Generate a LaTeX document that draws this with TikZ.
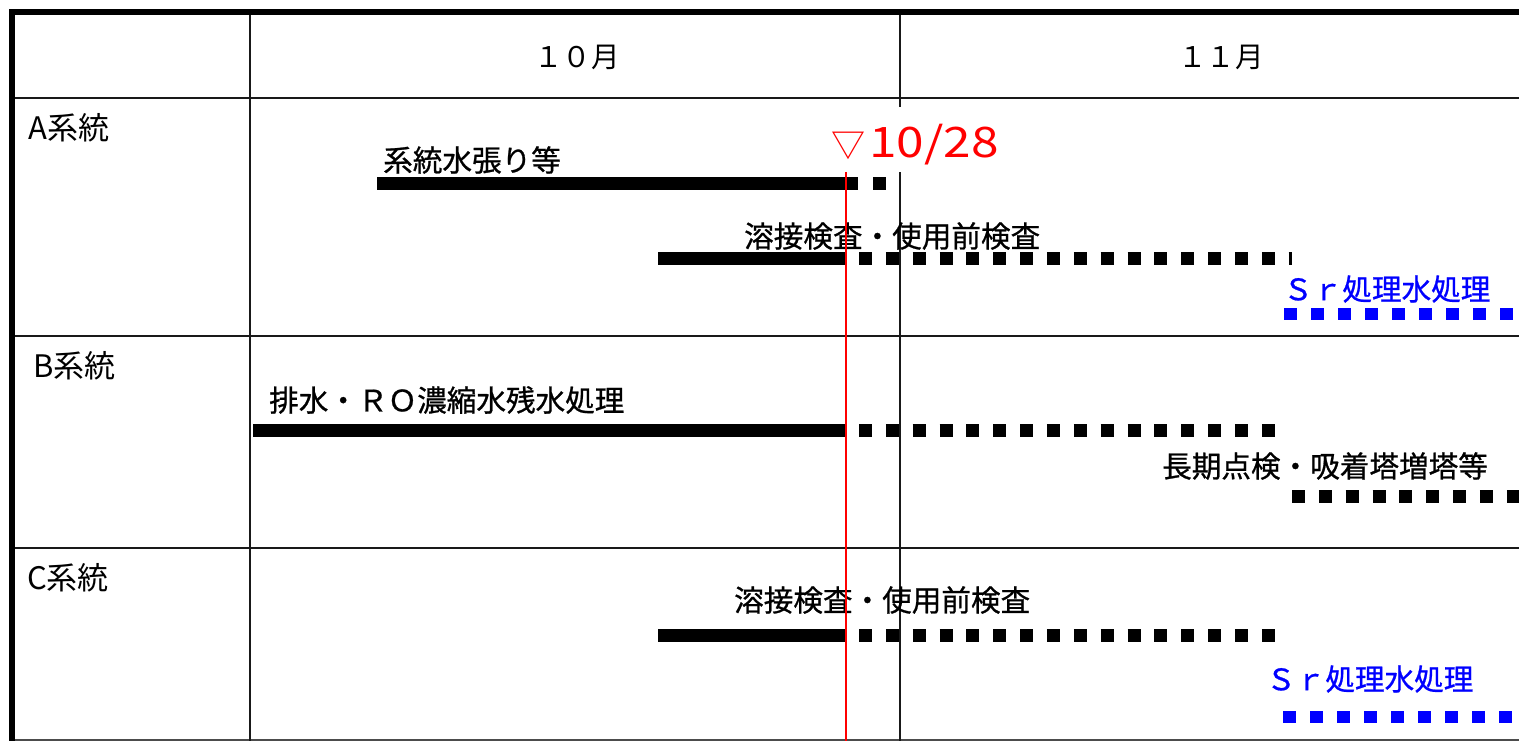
\documentclass[tikz,border=0pt]{standalone}
\usepackage{fontspec}
\newfontfamily\jp{Noto Sans CJK JP}
\newfontfamily\jpbar[FakeBold=0.8]{Noto Sans CJK JP}
\newfontfamily\jpwide[FakeStretch=1.18]{Noto Sans CJK JP}
\tikzset{
  frameline/.style={line width=5.5pt, line join=miter, line cap=rect},
  gridline/.style={line width=2.5pt, black!90},
  lbl/.style={font=\jpbar\fontsize{29.6}{30}\selectfont, anchor=west, inner sep=0pt},
  rowlbl/.style={font=\jp\fontsize{31}{31}\selectfont, anchor=west, inner sep=0pt},
  monthlbl/.style={font=\jp\fontsize{28.5}{28}\selectfont, inner sep=0pt},
  solidbar/.style={line width=13pt},
  planbar/.style={line width=13pt, dash pattern=on 13pt off 13.85pt},
  srbar/.style={line width=12pt, blue, dash pattern=on 12.5pt off 14.5pt},
  srlbl/.style={lbl, text=blue},
}
\begin{document}
\begin{tikzpicture}[x=1pt,y=-1pt]
\useasboundingbox (0,0) rectangle (1519,741);
% grid
\draw[gridline] (12,98) -- (1519,98);
\draw[gridline] (12,336) -- (1519,336);
\draw[gridline] (12,548) -- (1519,548);
\draw[line width=1.5pt, black!70] (12,740) -- (1519,740);
\draw[gridline] (250,12) -- (250,741);
\draw[gridline] (900,12) -- (900,741);
\draw[frameline] (1519,12) -- (12,12) -- (12,741);
% headers
\node[monthlbl] (oct) at (577,57) {１０月};
\node[monthlbl] (nov) at (1221,57) {１１月};
\node[rowlbl] (rowA) at (28,128) {A系統};
\node[rowlbl] (rowB) at (33,366) {B系統};
\node[rowlbl] (rowC) at (27,578) {C系統};
% row A
\node[lbl] (a1) at (383,160) {系統水張り等};
\draw[solidbar] (377,184) -- (858,184);
\draw[solidbar] (873,184) -- (886,184);
\node[lbl] (a2) at (744,236) {溶接検査・使用前検査};
\draw[solidbar] (658,258) -- (845,258);
\draw[planbar] (859,258) -- (1291.5,258);
\node[srlbl] (a3) at (1283,289) {Ｓｒ処理水処理};
\draw[srbar] (1284,313.5) -- (1512.5,313.5);
% row B
\node[lbl] (b1) at (269,400) {排水・ＲＯ濃縮水残水処理};
\draw[solidbar] (253,430.5) -- (845,430.5);
\draw[planbar] (859,430.5) -- (1275,430.5);
\node[lbl] (b2) at (1162,466) {長期点検・吸着塔増塔等};
\draw[planbar] (1292,496.5) -- (1519,496.5);
% row C
\node[lbl] (c1) at (734,600) {溶接検査・使用前検査};
\draw[solidbar] (658,635) -- (845,635);
\draw[planbar] (859,635) -- (1275,635);
\node[srlbl] (c2) at (1266,679) {Ｓｒ処理水処理};
\draw[srbar] (1283,716.5) -- (1512,716.5);
% today marker
\fill[white] (826,107) rectangle (1006,172);
\node[text=red, anchor=base west, inner sep=0pt] (today) at (831,158)
  {{\jp\fontsize{34}{34}\selectfont ▽}\kern 4pt{\jpwide\fontsize{42}{42}\selectfont 10/28}};
\coordinate (todaytop) at (846,172);
\coordinate (todaybot) at (846,741);
\draw[red, line width=1.4pt] (todaytop) -- (todaybot);
\end{tikzpicture}
\end{document}
